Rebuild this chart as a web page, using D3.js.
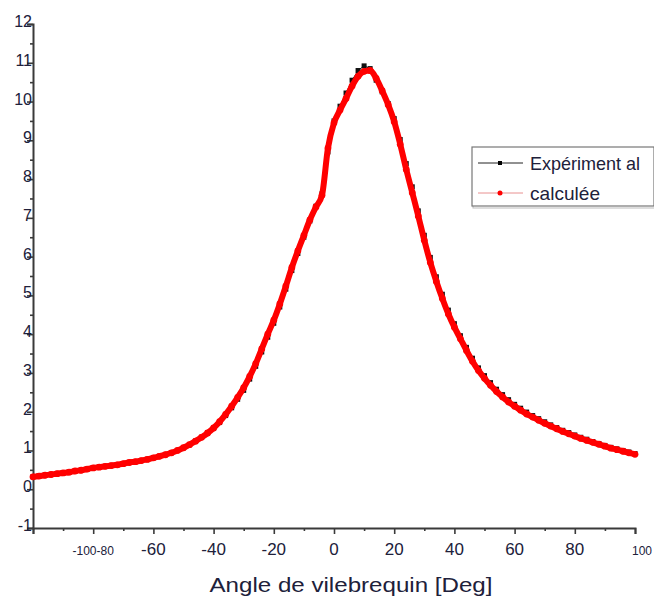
<!DOCTYPE html>
<html>
<head>
<meta charset="utf-8">
<script src="https://cdn.jsdelivr.net/npm/d3@7"></script>
<style>
  html, body { margin: 0; padding: 0; background: #fff; }
  svg { display: block; }
  text { font-family: "Liberation Sans", Arial, sans-serif; fill: #20203a; }
</style>
</head>
<body>
<svg id="chart" width="654" height="601"></svg>
<script>
// Crank angle samples (degrees)
const angles = [
  -100, -98, -96, -94, -92, -90, -88, -86, -84, -82,
  -80, -78, -76, -74, -72, -70, -68, -66, -64, -62,
  -60, -58, -56, -54, -52, -50, -48, -46, -44, -42,
  -40, -38, -36, -34, -32, -30, -28, -26, -24, -22,
  -20, -18, -16, -14, -12, -10, -8, -6, -4, -2,
  0, 2, 4, 6, 8, 10, 12, 14, 16, 18,
  20, 22, 24, 26, 28, 30, 32, 34, 36, 38,
  40, 42, 44, 46, 48, 50, 52, 54, 56, 58,
  60, 62, 64, 66, 68, 70, 72, 74, 76, 78,
  80, 82, 84, 86, 88, 90, 92, 94, 96, 98,
  100
];

// Measured series
const experimental = [
  0.32, 0.34, 0.36, 0.38, 0.40, 0.42, 0.44, 0.47, 0.49, 0.52,
  0.55, 0.57, 0.59, 0.61, 0.63, 0.66, 0.69, 0.71, 0.74, 0.77,
  0.81, 0.85, 0.89, 0.94, 1.00, 1.07, 1.15, 1.24, 1.34, 1.45,
  1.57, 1.72, 1.90, 2.10, 2.32, 2.55, 2.84, 3.17, 3.54, 3.92,
  4.28, 4.70, 5.16, 5.64, 6.08, 6.50, 6.92, 7.30, 7.62, 8.70,
  9.50, 9.88, 10.22, 10.55, 10.80, 10.92, 10.85, 10.55, 10.25, 9.95,
  9.56, 9.02, 8.40, 7.80, 7.18, 6.55, 5.98, 5.48, 5.03, 4.62,
  4.27, 3.96, 3.66, 3.38, 3.13, 2.93, 2.75, 2.58, 2.44, 2.31,
  2.19, 2.09, 1.99, 1.90, 1.82, 1.74, 1.66, 1.59, 1.52, 1.46,
  1.40, 1.34, 1.29, 1.23, 1.18, 1.13, 1.08, 1.04, 1.00, 0.96,
  0.92
];

// Computed series
const calculee = [
  0.32, 0.34, 0.36, 0.38, 0.40, 0.42, 0.44, 0.47, 0.49, 0.52,
  0.55, 0.57, 0.59, 0.61, 0.63, 0.66, 0.69, 0.71, 0.74, 0.77,
  0.81, 0.85, 0.89, 0.94, 1.00, 1.07, 1.15, 1.24, 1.34, 1.45,
  1.58, 1.74, 1.93, 2.14, 2.37, 2.62, 2.91, 3.24, 3.62, 4.00,
  4.36, 4.78, 5.24, 5.72, 6.15, 6.55, 6.95, 7.28, 7.58, 8.80,
  9.45, 9.78, 10.08, 10.40, 10.65, 10.78, 10.80, 10.60, 10.28, 9.92,
  9.48, 8.90, 8.25, 7.65, 7.05, 6.42, 5.85, 5.36, 4.92, 4.52,
  4.18, 3.88, 3.58, 3.30, 3.06, 2.86, 2.68, 2.52, 2.38, 2.25,
  2.14, 2.04, 1.94, 1.86, 1.78, 1.70, 1.63, 1.56, 1.49, 1.43,
  1.37, 1.31, 1.26, 1.21, 1.16, 1.11, 1.06, 1.02, 0.98, 0.94,
  0.90
];

// Axis ticks and labels
const xMajorTicks = [-100, -80, -60, -40, -20, 0, 20, 40, 60, 80, 100];
const xTickLabels = ["", "-100-80", "-60", "-40", "-20", "0", "20", "40", "60", "80", "100"];
const xMinorTicks = [-90, -70, -50, -30, -10, 10, 30, 50, 70, 90];
const yMajorTicks = [-1, 0, 1, 2, 3, 4, 5, 6, 7, 8, 9, 10, 11, 12];
const yMinorTicks = [-0.5, 0.5, 1.5, 2.5, 3.5, 4.5, 5.5, 6.5, 7.5, 8.5, 9.5, 10.5, 11.5];

const seriesNames = ["Expériment al", "calculée"];
const xTitle = "Angle de vilebrequin [Deg]";

const svg = d3.select("#chart");
const x = d3.scaleLinear().domain([-100, 100]).range([33, 635]);
const y = d3.scaleLinear().domain([-1, 12]).range([528, 24]);
const axisColor = "#3a3a3a";

// Axes (outward ticks, minor ticks between majors)
const gx = svg.append("g").attr("transform", `translate(0,${y(-1)})`);
gx.call(d3.axisBottom(x).tickValues(xMajorTicks).tickSize(6).tickFormat(""));
gx.append("g").call(d3.axisBottom(x).tickValues(xMinorTicks).tickSize(3).tickFormat(""));
gx.selectAll("path.domain").attr("stroke", axisColor).attr("stroke-width", 2);
gx.selectAll(".tick line").attr("stroke", axisColor).attr("stroke-width", 1.6);
gx.selectAll("g g path.domain").remove();

const gy = svg.append("g").attr("transform", `translate(${x(-100)},0)`);
gy.call(d3.axisLeft(y).tickValues(yMajorTicks).tickSize(6).tickFormat(""));
gy.append("g").call(d3.axisLeft(y).tickValues(yMinorTicks).tickSize(3).tickFormat(""));
gy.selectAll("path.domain").attr("stroke", axisColor).attr("stroke-width", 2);
gy.selectAll(".tick line").attr("stroke", axisColor).attr("stroke-width", 1.6);
gy.selectAll("g g path.domain").remove();

// Y tick labels
svg.append("g").selectAll("text").data(yMajorTicks).join("text")
  .attr("x", x(-100) - 1)
  .attr("y", d => y(d) + 3)
  .attr("text-anchor", "end")
  .attr("font-size", 16)
  .text(d => d);

// X tick labels
svg.append("g").selectAll("text").data(xMajorTicks).join("text")
  .attr("x", (d, i) => xTickLabels[i] === "100" ? x(d) - 3 : x(d))
  .attr("y", y(-1) + 27)
  .attr("text-anchor", (d, i) => xTickLabels[i] === "100" ? "start" : "middle")
  .attr("font-size", (d, i) => (xTickLabels[i] === "-100-80" || xTickLabels[i] === "100") ? 12 : 17)
  .text((d, i) => xTickLabels[i]);

// Axis title
svg.append("text")
  .attr("x", 351).attr("y", 592)
  .attr("text-anchor", "middle")
  .attr("font-size", 21)
  .attr("textLength", 283)
  .attr("lengthAdjust", "spacingAndGlyphs")
  .text(xTitle);

// Experimental points: black squares
const sq = 5;
svg.append("path")
  .datum(angles.map((a, i) => [a, experimental[i]]))
  .attr("fill", "none").attr("stroke", "#111").attr("stroke-width", 1)
  .attr("d", d3.line().x(d => x(d[0])).y(d => y(d[1])));
svg.append("g").selectAll("rect").data(angles).join("rect")
  .attr("x", (a, i) => x(a) - sq / 2)
  .attr("y", (a, i) => y(experimental[i]) - sq / 2)
  .attr("width", sq).attr("height", sq)
  .attr("fill", "#111");

// Computed curve: red line with dot markers
svg.append("path")
  .datum(angles.map((a, i) => [a, calculee[i]]))
  .attr("fill", "none").attr("stroke", "#f00").attr("stroke-width", 6)
  .attr("stroke-linejoin", "round")
  .attr("d", d3.line().curve(d3.curveMonotoneX).x(d => x(d[0])).y(d => y(d[1])));
svg.append("g").selectAll("circle").data(angles).join("circle")
  .attr("cx", a => x(a))
  .attr("cy", (a, i) => y(calculee[i]))
  .attr("r", 3.4)
  .attr("fill", "#f00");

// Legend
const lg = svg.append("g");
lg.append("rect").attr("x", 473).attr("y", 149).attr("width", 182).attr("height", 59)
  .attr("fill", "none").attr("stroke", "#bbb").attr("stroke-width", 1);
lg.append("rect").attr("x", 472).attr("y", 147).attr("width", 182).attr("height", 59)
  .attr("fill", "#fff").attr("stroke", "#777").attr("stroke-width", 1.2);
const rows = [
  { y: 163, line: "#222", dot: "#000", square: true },
  { y: 193, line: "#e89090", dot: "#f00", square: false }
];
rows.forEach((r, i) => {
  lg.append("line").attr("x1", 478).attr("x2", 523).attr("y1", r.y).attr("y2", r.y)
    .attr("stroke", r.line).attr("stroke-width", 1);
  if (r.square) {
    lg.append("rect").attr("x", 498).attr("y", r.y - 2).attr("width", 4).attr("height", 4).attr("fill", r.dot);
  } else {
    lg.append("circle").attr("cx", 500).attr("cy", r.y).attr("r", 2.5).attr("fill", r.dot);
  }
  lg.append("text").attr("x", 530).attr("y", r.y + 7)
    .attr("font-size", 19)
    .attr("textLength", i === 0 ? 110 : 70)
    .attr("lengthAdjust", "spacingAndGlyphs")
    .text(seriesNames[i]);
});
</script>
</body>
</html>
